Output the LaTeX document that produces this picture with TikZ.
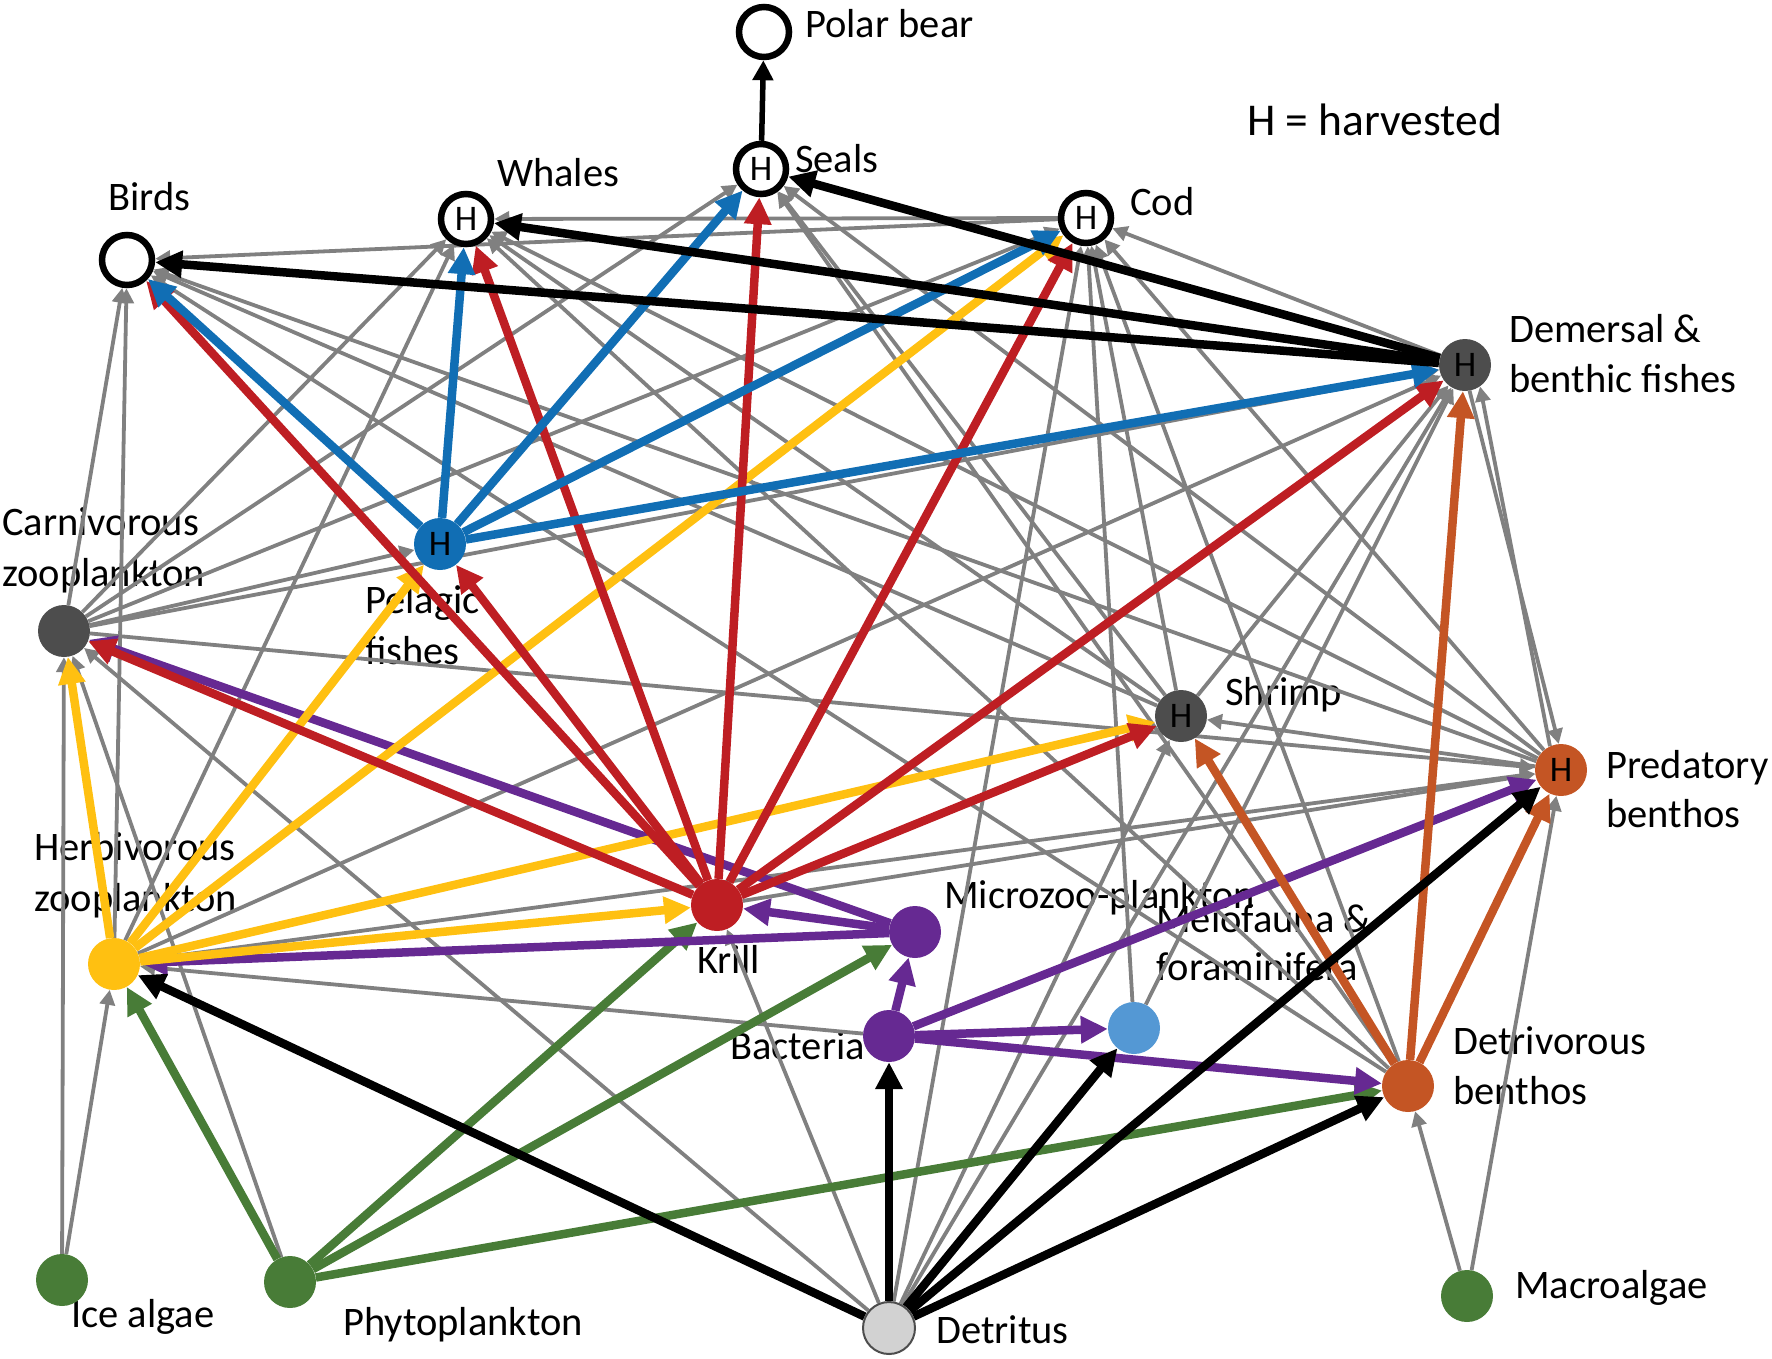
\documentclass[tikz,border=0pt]{standalone}
\usepackage{fontspec}
\setmainfont{Carlito}
\usetikzlibrary{arrows.meta}
\definecolor{eg}{RGB}{128,128,128}
\definecolor{ered}{RGB}{190,30,35}
\definecolor{eblue}{RGB}{17,110,180}
\definecolor{eyel}{RGB}{255,192,17}
\definecolor{epur}{RGB}{102,41,146}
\definecolor{egrn}{RGB}{72,124,55}
\definecolor{eora}{RGB}{196,85,36}
\definecolor{dkg}{RGB}{77,77,77}
\definecolor{lblue}{RGB}{84,152,212}
\definecolor{detf}{RGB}{210,210,210}
\pgfdeclarelayer{txt}
\pgfdeclarelayer{edges}
\pgfsetlayers{txt,edges,main}
\tikzset{
  nd/.style={circle,minimum size=52pt,inner sep=0pt,font=\fontsize{36}{36}\selectfont},
  opn/.style={draw=black,line width=6.5pt,fill=white,minimum size=50pt},
  lab/.style={anchor=base west,inner sep=0pt,font=\fontsize{40.5}{44}\selectfont},
  ge/.style={draw=eg,line width=3.8pt,-{Triangle[length=15pt,width=15pt]}},
  ce/.style={draw=#1,line width=8.5pt,-{Triangle[length=27pt,width=26pt]}},
  bk/.style={draw=black,line width=8.5pt,-{Triangle[length=27pt,width=26pt]}}
}
\begin{document}
\begin{tikzpicture}[x=1pt,y=-1pt]
\useasboundingbox (0,0) rectangle (1772,1358);
% nodes
\node[nd,opn] (PB) at (764,32) {};
\node[nd,opn] (SE) at (761,169) {H};
\node[nd,opn] (WH) at (466,219) {H};
\node[nd,opn] (BI) at (127,260) {};
\node[nd,opn] (CO) at (1086,218) {H};
\node[nd,fill=dkg] (DE) at (1465,365) {H};
\node[nd,fill=eblue] (PF) at (440,544) {H};
\node[nd,fill=dkg] (CZ) at (64,631) {};
\node[nd,fill=dkg] (SH) at (1181,716) {H};
\node[nd,fill=eora] (PR) at (1561,770) {H};
\node[nd,fill=eyel] (HZ) at (114,964) {};
\node[nd,fill=ered] (KR) at (717,905) {};
\node[nd,fill=epur] (MZ) at (915,932) {};
\node[nd,fill=lblue] (ME) at (1134,1028) {};
\node[nd,fill=epur] (BA) at (889,1036) {};
\node[nd,fill=eora] (DB) at (1408,1086) {};
\node[nd,fill=egrn] (IA) at (62,1280) {};
\node[nd,fill=egrn] (PP) at (290,1282) {};
\node[nd,fill=detf,draw=dkg,line width=2pt] (DT) at (889,1328) {};
\node[nd,fill=egrn] (MA) at (1467,1296) {};
% labels
\begin{pgfonlayer}{txt}
\node[lab] (lPB) at (805,37) {Polar bear};
\node[lab] (lSE) at (795,172) {Seals};
\node[lab] (lWH) at (497,186) {Whales};
\node[lab] (lBI) at (108,210) {Birds};
\node[lab] (lCO) at (1130,215) {Cod};
\node[lab,font=\fontsize{45.5}{50}\selectfont] (lH) at (1247,135) {H = harvested};
\node[lab] (lDE1) at (1509,342) {Demersal \&};
\node[lab] (lDE2) at (1509,392) {benthic fishes};
\node[lab] (lCZ1) at (2,535) {Carnivorous};
\node[lab] (lCZ2) at (2,586) {zooplankton};
\node[lab] (lPF1) at (365,613) {Pelagic};
\node[lab] (lPF2) at (365,664) {fishes};
\node[lab] (lSH) at (1225,705) {Shrimp};
\node[lab] (lPR1) at (1606,778) {Predatory};
\node[lab] (lPR2) at (1606,827) {benthos};
\node[lab] (lHZ1) at (34,860) {Herbivorous};
\node[lab] (lHZ2) at (34,911) {zooplankton};
\node[lab] (lKR) at (697,973) {Krill};
\node[lab] (lMZ) at (944,908) {Microzoo-plankton};
\node[lab] (lME1) at (1156,932) {Meiofauna \&};
\node[lab] (lME2) at (1156,980) {foraminifera};
\node[lab] (lBA) at (730,1059) {Bacteria};
\node[lab] (lDB1) at (1453,1054) {Detrivorous};
\node[lab] (lDB2) at (1453,1104) {benthos};
\node[lab] (lIA) at (71,1327) {Ice algae};
\node[lab] (lPP) at (343,1335) {Phytoplankton};
\node[lab] (lDT) at (936,1343) {Detritus};
\node[lab] (lMA) at (1515,1298) {Macroalgae};
\end{pgfonlayer}
\begin{pgfonlayer}{edges}
% gray links (prey -> consumer)
\draw[ge] (CO) -- (BI);
\draw[ge] (CO) -- (WH);
\draw[ge] (CZ) -- (BI);
\draw[ge] (HZ) -- (BI);
\draw[ge] (SH) -- (BI);
\draw[ge] (DB) -- (BI);
\draw[ge] (PR) -- (BI);
\draw[ge] (CZ) -- (WH);
\draw[ge] (HZ) -- (WH);
\draw[ge] (SH) -- (WH);
\draw[ge] (PR) -- (WH);
\draw[ge] (DB) -- (WH);
\draw[ge] (CZ) -- (SE);
\draw[ge] (SH) -- (SE);
\draw[ge] (DB) -- (SE);
\draw[ge] (PR) -- (SE);
\draw[ge] (CZ) -- (CO);
\draw[ge] (DE) -- (CO);
\draw[ge] (DT) -- (CO);
\draw[ge] (ME) -- (CO);
\draw[ge] (SH) -- (CO);
\draw[ge] (DB) -- (CO);
\draw[ge] (PR) -- (CO);
\draw[ge] (CZ) -- (PF);
\draw[ge] (CZ) -- (DE);
\draw[ge] (HZ) -- (DE);
\draw[ge] (ME) -- (DE);
\draw[ge] (DT) -- (DE);
\draw[ge] (SH) -- (DE);
\draw[ge] (PR.115) -- (DE.-55);
\draw[ge] (DE.-80) -- (PR.95);
\draw[ge] (CZ) -- (PR);
\draw[ge] (HZ) -- (PR);
\draw[ge] (KR) -- (PR);
\draw[ge] (MA) -- (PR);
\draw[ge] (PR) -- (SH);
\draw[ge] (DT) -- (SH);
\draw[ge] (IA) -- (CZ);
\draw[ge] (PP) -- (CZ);
\draw[ge] (DT) -- (CZ);
\draw[ge] (IA) -- (HZ);
\draw[ge] (BA) -- (HZ);
\draw[ge] (DT) -- (KR);
\draw[ge] (MA) -- (DB);
% green
\draw[ce=egrn] (PP) -- (HZ);
\draw[ce=egrn] (PP) -- (KR);
\draw[ce=egrn] (PP) -- (MZ);
\draw[ce=egrn] (PP) -- (DB);
% purple
\draw[ce=epur] (MZ) -- (CZ);
\draw[ce=epur] (MZ) -- (KR);
\draw[ce=epur] (MZ) -- (HZ);
\draw[ce=epur] (BA) -- (MZ);
\draw[ce=epur] (BA) -- (ME);
\draw[ce=epur] (BA) -- (DB);
\draw[ce=epur] (BA) -- (PR);
% yellow
\draw[ce=eyel] (HZ) -- (CZ);
\draw[ce=eyel] (HZ) -- (PF);
\draw[ce=eyel] (HZ) -- (CO);
\draw[ce=eyel] (HZ) -- (KR);
\draw[ce=eyel] (HZ) -- (SH);
% orange
\draw[ce=eora] (DB) -- (DE);
\draw[ce=eora] (DB) -- (SH);
\draw[ce=eora] (DB) -- (PR);
% red
\draw[ce=ered] (KR) -- (BI);
\draw[ce=ered] (KR) -- (PF);
\draw[ce=ered] (KR) -- (WH);
\draw[ce=ered] (KR) -- (SE);
\draw[ce=ered] (KR) -- (CO);
\draw[ce=ered] (KR) -- (DE);
\draw[ce=ered] (KR) -- (SH);
\draw[ce=ered] (KR) -- (CZ);
% blue
\draw[ce=eblue] (PF) -- (BI);
\draw[ce=eblue] (PF) -- (WH);
\draw[ce=eblue] (PF) -- (SE);
\draw[ce=eblue] (PF) -- (CO);
\draw[ce=eblue] (PF) -- (DE);
% black
\draw[bk] (DE) -- (SE);
\draw[bk] (DE) -- (WH);
\draw[bk] (DE) -- (BI);
\draw[bk] (DT) -- (HZ);
\draw[bk] (DT) -- (BA);
\draw[bk] (DT) -- (ME);
\draw[bk] (DT) -- (DB);
\draw[bk] (DT) -- (PR);
\draw[draw=black,line width=5.5pt,-{Triangle[length=20pt,width=20pt]}] (SE) -- (PB);
\end{pgfonlayer}
\end{tikzpicture}
\end{document}
